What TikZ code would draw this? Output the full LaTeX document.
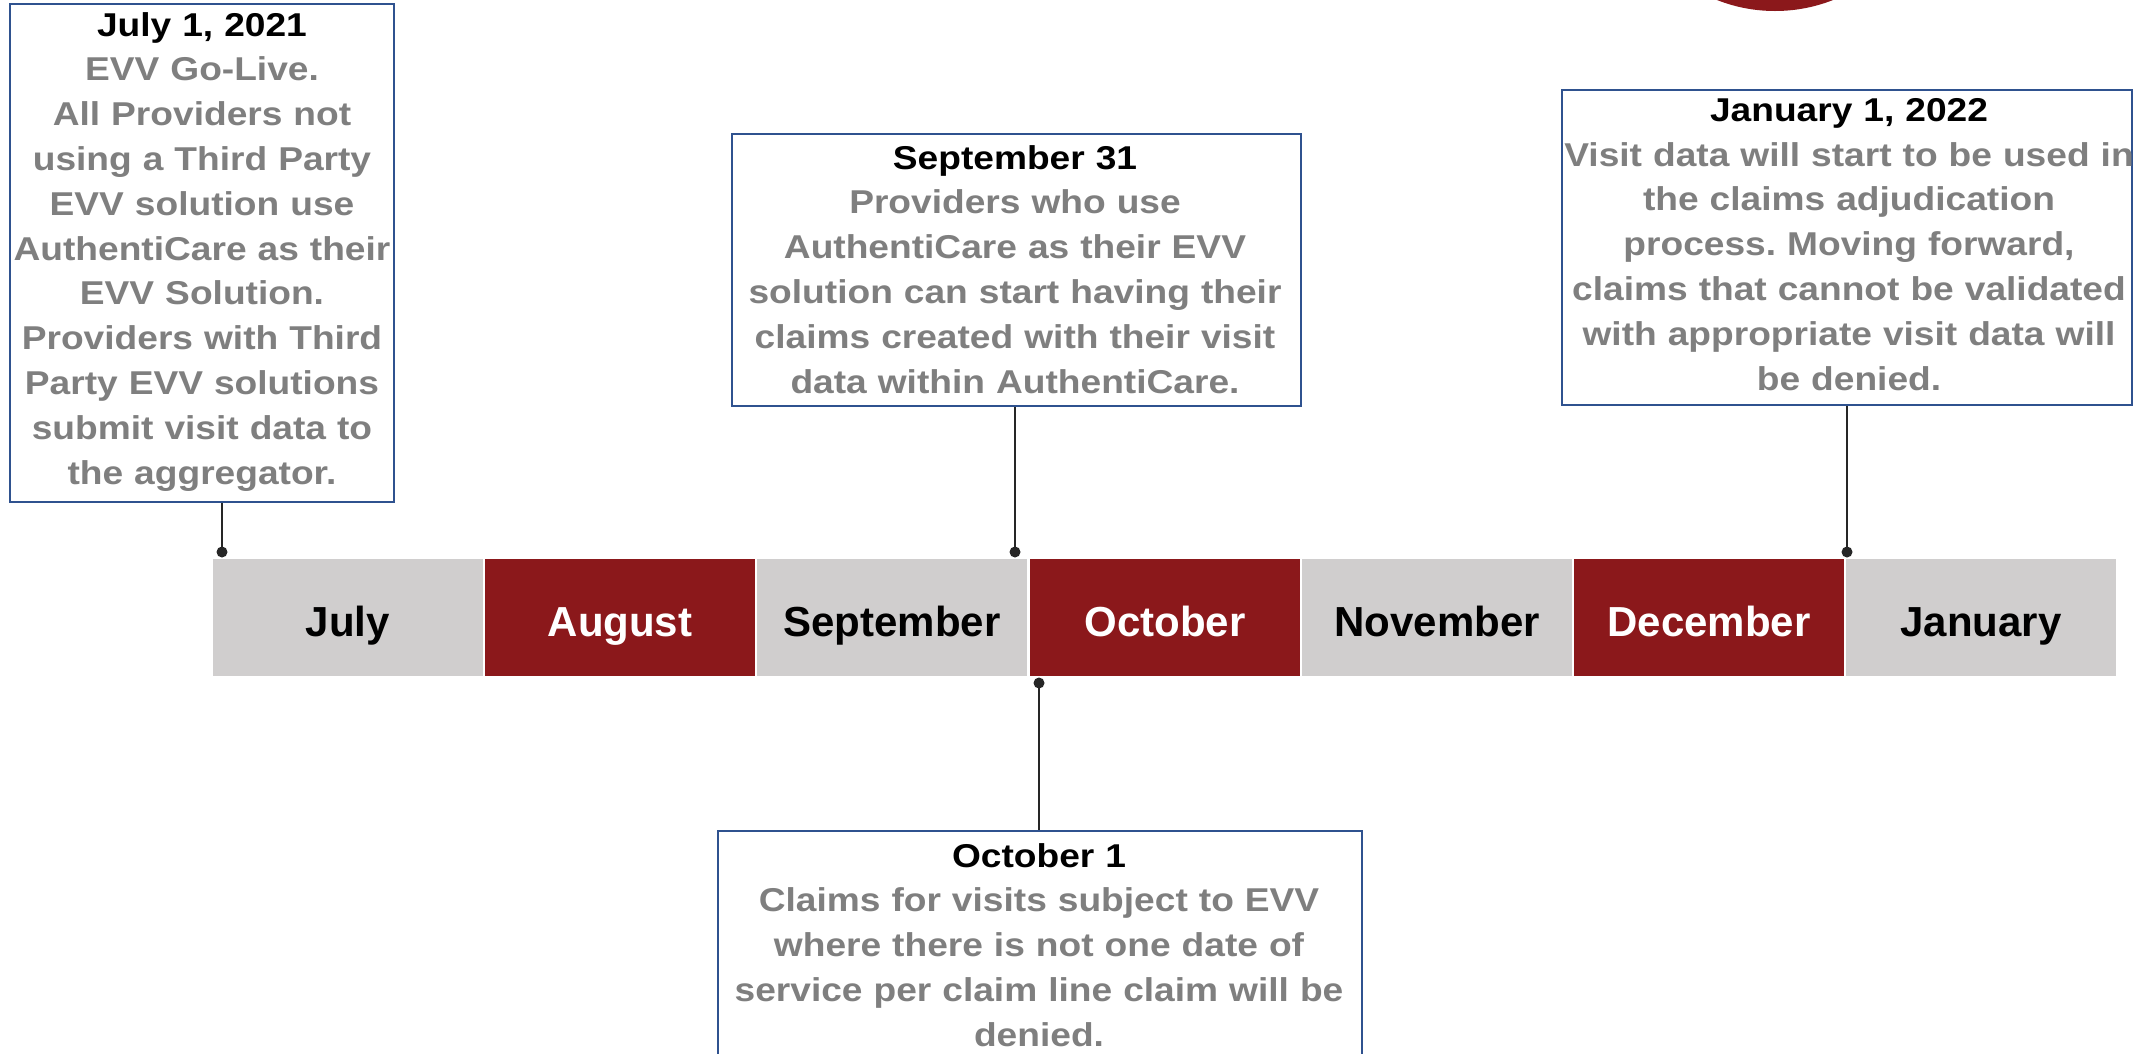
\documentclass[tikz,border=0pt]{standalone}
\usepackage{fontspec}
\setmainfont{Liberation Sans}
\newfontfamily\bodyfont[FakeStretch=1.125]{Liberation Sans}
\definecolor{barred}{RGB}{139,24,27}
\definecolor{bargrey}{RGB}{208,206,206}
\definecolor{boxblue}{RGB}{47,82,143}
\definecolor{txtgrey}{RGB}{127,127,127}
\definecolor{connclr}{RGB}{38,38,38}
\frenchspacing
\begin{document}
\begin{tikzpicture}[x=1pt,y=-1pt,
  seg/.style={minimum width=270pt, minimum height=117pt, inner sep=0pt, anchor=north west, draw=none},
  redseg/.style={seg, fill=barred},
  greyseg/.style={seg, fill=bargrey},
  monthlbl/.style={font=\bfseries\fontsize{42}{50}\selectfont, inner sep=0pt, anchor=base},
  databox/.style={draw=boxblue, line width=2.2pt, fill=white, inner sep=0pt, anchor=north west},
  datatext/.style={font=\bodyfont\bfseries\fontsize{33}{44.8}\selectfont\frenchspacing, text=black, align=center, text width=660pt, inner sep=0pt, anchor=north},
  conn/.style={draw=connclr, line width=2.4pt},
  dotmark/.style={fill=connclr}
]
\useasboundingbox (0,0) rectangle (2133,1053);
\clip (0,0) rectangle (2133,1053);
\fill[white] (0,0) rectangle (2133,1053);

% red circle at top
\fill[barred] (1775,-147) circle (158);

% timeline segments
\node[greyseg] (sJul) at (213,559) {};
\node[redseg]  (sAug) at (485,559) {};
\node[greyseg] (sSep) at (757,559) {};
\node[redseg]  (sOct) at (1030,559) {};
\node[greyseg] (sNov) at (1302,559) {};
\node[redseg]  (sDec) at (1574,559) {};
\node[greyseg] (sJan) at (1846,559) {};

\node[monthlbl, text=black] (lJul) at (348,636) {July};
\node[monthlbl, text=white] (lAug) at (620,636) {August};
\node[monthlbl, text=black] (lSep) at (892,636) {September};
\node[monthlbl, text=white] (lOct) at (1165,636) {October};
\node[monthlbl, text=black] (lNov) at (1437,636) {November};
\node[monthlbl, text=white] (lDec) at (1709,636) {December};
\node[monthlbl, text=black] (lJan) at (1981,636) {January};

% boxes
\node[databox, minimum width=384pt, minimum height=498pt] (b1) at (9,3) {};
\node[databox, minimum width=569pt, minimum height=272pt] (b2) at (731,133) {};
\node[databox, minimum width=570pt, minimum height=315pt] (b3) at (1561,89) {};
\node[databox, minimum width=644pt, minimum height=300pt] (b4) at (717,830) {};

% texts
\node[datatext] (t1) at (202,12) {July 1, 2021\\\color{txtgrey}EVV Go-Live.\\All Providers not\\using a Third Party\\EVV solution use\\AuthentiCare as their\\EVV Solution.\\Providers with Third\\Party EVV solutions\\submit visit data to\\the aggregator.};
\node[datatext] (t2) at (1015,145) {September 31\\\color{txtgrey}Providers who use\\AuthentiCare as their EVV\\solution can start having their\\claims created with their visit\\data within AuthentiCare.};
\node[datatext] (t3) at (1849,98) {January 1, 2022\\\color{txtgrey}Visit data will start to be used in\\the claims adjudication\\process. Moving forward,\\claims that cannot be validated\\with appropriate visit data will\\be denied.};
\node[datatext] (t4) at (1039,843) {October 1\\\color{txtgrey}Claims for visits subject to EVV\\where there is not one date of\\service per claim line claim will be\\denied.};

% connectors
\coordinate (d1) at (222,552);
\coordinate (d2) at (1015,552);
\coordinate (d3) at (1847,552);
\coordinate (d4) at (1039,683);
\draw[conn] (b1.south -| d1) -- (d1);
\draw[conn] (b2.south -| d2) -- (d2);
\draw[conn] (b3.south -| d3) -- (d3);
\draw[conn] (d4) -- (b4.north -| d4);
\fill[dotmark] (d1) circle (5.5);
\fill[dotmark] (d2) circle (5.5);
\fill[dotmark] (d3) circle (5.5);
\fill[dotmark] (d4) circle (5.5);
\end{tikzpicture}
\end{document}
